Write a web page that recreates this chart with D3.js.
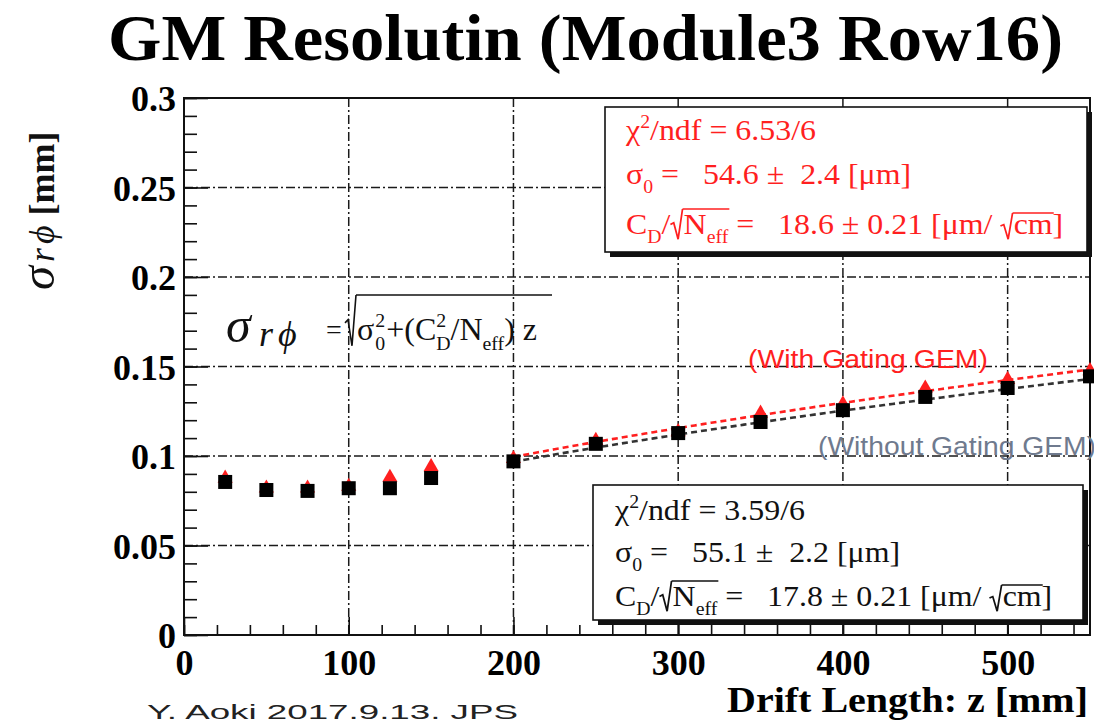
<!DOCTYPE html>
<html>
<head>
<meta charset="utf-8">
<script src="https://cdn.jsdelivr.net/npm/d3@7"></script>
<style>
  html, body { margin: 0; padding: 0; background: #fff; }
  svg text { white-space: pre; }
</style>
</head>
<body>
<svg id="chart" width="1094" height="726"></svg>
<script>
// Drift length (mm) of each measured point
const driftZ = [25, 50, 75, 100, 125, 150, 200, 250, 300, 350, 400, 450, 500, 550];
// sigma_rphi (mm) without gating GEM (black squares)
const sigmaNoGate = [0.0855, 0.0810, 0.0805, 0.0820, 0.0820, 0.0877, 0.0970, 0.1068, 0.1128, 0.1190, 0.1256, 0.1330, 0.1380, 0.1445];
// sigma_rphi (mm) with gating GEM (red triangles)
const sigmaGate = [0.0875, 0.0820, 0.0820, 0.0830, 0.0880, 0.0940, 0.0985, 0.1086, 0.1135, 0.1238, 0.1290, 0.1379, 0.1427, 0.1476];
// Fit results: sigma0 [um], C_D/sqrt(Neff) [um/sqrt(cm)], fit range [mm]
const fitGate = [54.6, 18.6];
const fitNoGate = [55.1, 17.8];
const fitRange = [200, 550];
// Axis ticks
const xMajor = [0, 100, 200, 300, 400, 500];
const xTickLabels = ["0", "100", "200", "300", "400", "500"];
const yMajor = [0, 0.05, 0.1, 0.15, 0.2, 0.25, 0.3];
const yTickLabels = ["0", "0.05", "0.1", "0.15", "0.2", "0.25", "0.3"];
const xGrid = [100, 200, 300, 400, 500];
const yGrid = [0.05, 0.1, 0.15, 0.2, 0.25];

const SERIF = "'Liberation Serif', 'Times New Roman', serif";
const SANS = "'Liberation Sans', Arial, sans-serif";
const RED = "#ff1f1f";

const svg = d3.select("#chart");
const L = 184, R = 1090, T = 98, B = 635;
const x = d3.scaleLinear().domain([0, 550]).range([L, R]);
const y = d3.scaleLinear().domain([0, 0.3]).range([B, T]);

// Rich text: sequential pieces with sub/superscripts and radicals
function rich(g, x0, y0, parts, size, color, family, weight) {
  let cx = x0, radStart = null, radTop = 0;
  const put = (txt, px, dy, fs, italic, w) => {
    const t = g.append("text").attr("x", px).attr("y", y0 + dy)
      .attr("font-family", family).attr("font-size", fs)
      .attr("font-weight", w || weight || "normal")
      .attr("font-style", italic ? "italic" : "normal")
      .attr("fill", color).text(txt);
    return t.node().getComputedTextLength();
  };
  for (const p of parts) {
    if (p.rad) {
      radStart = cx; radTop = y0 - p.rad;
      const d = `M${cx},${y0 - p.rad * 0.38} L${cx + 3},${y0 - p.rad * 0.45} L${cx + 7},${y0 + size * 0.18} L${cx + 11},${radTop}`;
      g.append("path").attr("d", d).attr("fill", "none").attr("stroke", color).attr("stroke-width", 1.6);
      cx += 12;
      continue;
    }
    if (p.endrad) {
      g.append("line").attr("x1", radStart + 11).attr("x2", cx + 1)
        .attr("y1", radTop).attr("y2", radTop).attr("stroke", color).attr("stroke-width", 1.6);
      continue;
    }
    const fs = size * (p.s || 1);
    let w = 0;
    if (p.t != null) w = put(p.t, cx, p.dy || 0, fs, p.i, p.w);
    if (p.sub != null || p.sup != null) {
      const ws = p.sub != null ? put(p.sub, cx, size * 0.32, size * 0.62, p.i, p.w) : 0;
      const wp = p.sup != null ? put(p.sup, cx, -size * 0.42, size * 0.62, p.i, p.w) : 0;
      w = Math.max(w, ws, wp);
    }
    cx += w + (p.gap || 0);
  }
  return cx;
}

// Title
svg.append("text").attr("x", 108).attr("y", 60)
  .attr("font-family", SERIF).attr("font-weight", "bold").attr("font-size", 66)
  .attr("textLength", 955).attr("lengthAdjust", "spacingAndGlyphs")
  .text("GM Resolutin (Module3 Row16)");

// Grid
const grid = svg.append("g").attr("stroke", "#1a1a1a").attr("stroke-width", 1.5)
  .attr("stroke-dasharray", "9,3,2,3");
grid.selectAll(".gx").data(xGrid).join("line")
  .attr("x1", d => x(d)).attr("x2", d => x(d)).attr("y1", T).attr("y2", B);
grid.selectAll(".gy").data(yGrid).join("line")
  .attr("x1", L).attr("x2", R).attr("y1", d => y(d)).attr("y2", d => y(d));

// Axes with inward ticks
const yMinor = d3.range(0, 0.3001, 0.01).map(v => +v.toFixed(2));
const xMinor = d3.range(0, 551, 20);
function styleAxis(g) {
  g.select(".domain").remove();
  g.selectAll(".tick line").attr("stroke", "#111").attr("stroke-width", 1.6);
  g.selectAll("text").attr("font-family", SERIF).attr("font-weight", "bold")
    .attr("font-size", 36).attr("fill", "#000");
}
svg.append("g").attr("transform", `translate(${L},0)`)
  .call(d3.axisLeft(y).tickValues(yMinor).tickSize(-13).tickFormat(""))
  .call(styleAxis);
svg.append("g").attr("transform", `translate(${L},0)`)
  .call(d3.axisLeft(y).tickValues(yMajor).tickSize(-24).tickPadding(8)
    .tickFormat((d, i) => yTickLabels[i]))
  .call(styleAxis)
  .call(g => g.selectAll("text").attr("dy", "0.36em"));
svg.append("g").attr("transform", `translate(0,${B})`)
  .call(d3.axisBottom(x).tickValues(xMinor).tickSize(-10).tickFormat(""))
  .call(styleAxis);
svg.append("g").attr("transform", `translate(0,${B})`)
  .call(d3.axisBottom(x).tickValues(xMajor).tickSize(-18).tickPadding(14)
    .tickFormat((d, i) => xTickLabels[i]))
  .call(styleAxis);

// Frame
svg.append("rect").attr("x", L).attr("y", T).attr("width", R - L).attr("height", B - T)
  .attr("fill", "none").attr("stroke", "#111").attr("stroke-width", 2);

// Fit curves: sigma(z) = sqrt(s0^2 + (C_D^2/Neff) z), z in cm, result in mm
function fitCurve(p) {
  return d3.range(fitRange[0], fitRange[1] + 0.1, 5)
    .map(z => [z, Math.sqrt(p[0] * p[0] + p[1] * p[1] * z / 10) / 1000]);
}
const line = d3.line().x(d => x(d[0])).y(d => y(d[1]));
svg.append("path").datum(fitCurve(fitNoGate)).attr("d", line)
  .attr("fill", "none").attr("stroke", "#333").attr("stroke-width", 2.6).attr("stroke-dasharray", "6,4");
svg.append("path").datum(fitCurve(fitGate)).attr("d", line)
  .attr("fill", "none").attr("stroke", RED).attr("stroke-width", 2.6).attr("stroke-dasharray", "6,4");

// Markers
const tri = d3.symbol().type(d3.symbolTriangle).size(100);
svg.append("g").selectAll("path").data(driftZ).join("path")
  .attr("d", tri).attr("fill", RED)
  .attr("transform", (d, i) => `translate(${x(d)},${y(sigmaGate[i])})`);
svg.append("g").selectAll("rect").data(driftZ).join("rect")
  .attr("x", d => x(d) - 7).attr("y", (d, i) => y(sigmaNoGate[i]) - 7)
  .attr("width", 14).attr("height", 14).attr("fill", "#000");

// Series labels
svg.append("text").attr("x", 748).attr("y", 368).attr("font-family", SANS).attr("font-size", 26)
  .attr("fill", RED).attr("textLength", 240).attr("lengthAdjust", "spacingAndGlyphs")
  .text("(With Gating GEM)");
svg.append("text").attr("x", 818).attr("y", 455).attr("font-family", SANS).attr("font-size", 26)
  .attr("fill", "#6f7a8e").attr("textLength", 278).attr("lengthAdjust", "spacingAndGlyphs")
  .text("(Without Gating GEM)");

// Fit-result boxes
function statBox(bx, by, bw, bh, color, lines, baselines, tx) {
  const g = svg.append("g");
  g.append("rect").attr("x", bx + 5).attr("y", by + 5).attr("width", bw).attr("height", bh).attr("fill", "#111");
  g.append("rect").attr("x", bx).attr("y", by).attr("width", bw).attr("height", bh)
    .attr("fill", "#fff").attr("stroke", "#111").attr("stroke-width", 1.6);
  const tg = g.append("g").attr("transform", `translate(${tx},0) scale(1.1,1)`);
  lines.forEach((parts, i) => rich(tg, 0, baselines[i], parts, 29, color, SERIF));
}
const statLines = (chi, s0, s0e, cd, cde) => [
  [{ t: "χ" }, { sup: "2" }, { t: "/ndf = " + chi }],
  [{ t: "σ" }, { sub: "0" }, { t: " =   " + s0 + " ±  " + s0e + " [μm]" }],
  [{ t: "C" }, { sub: "D" }, { t: "/" }, { rad: 25 }, { t: "N" }, { sub: "eff" }, { endrad: true },
   { t: " =   " + cd + " ± " + cde + " [μm/ " }, { rad: 21 }, { t: "cm" }, { endrad: true }, { t: "]" }]
];
statBox(605, 107, 482, 145, RED, statLines("6.53/6", "54.6", "2.4", "18.6", "0.21"), [140, 184, 234], 626);
statBox(593, 485, 490, 135, "#111", statLines("3.59/6", "55.1", "2.2", "17.8", "0.21"), [520, 562, 606], 615);

// Formula
const fg = svg.append("g");
rich(fg, 226, 342, [{ t: "σ", i: true }], 50, "#111", SERIF);
rich(fg, 259, 346, [{ t: "r", i: true, gap: 5 }, { t: "ϕ", i: true }], 36, "#111", SERIF);
rich(fg, 326, 339, [{ t: "=" }], 28, "#111", SERIF);
rich(fg, 345, 340, [{ rad: 45 }, { t: "σ", gap: 1 }, { sub: "0", sup: "2", gap: 1 }, { t: "+(C" },
  { sub: "D", sup: "2" }, { t: "/N" }, { sub: "eff" }, { t: ") z" }], 32, "#111", SERIF);
fg.append("line").attr("x1", 356).attr("x2", 552).attr("y1", 295).attr("y2", 295)
  .attr("stroke", "#111").attr("stroke-width", 1.6);

// Axis titles
svg.append("text").attr("x", 1088).attr("y", 712).attr("text-anchor", "end")
  .attr("font-family", SERIF).attr("font-weight", "bold").attr("font-size", 36)
  .attr("textLength", 361).attr("lengthAdjust", "spacingAndGlyphs")
  .text("Drift Length: z [mm]");
const yt = svg.append("g").attr("transform", "translate(54,290) rotate(-90)");
rich(yt, 0, 0, [{ t: "σ", i: true, s: 1.35, gap: 4, w: "normal" }, { t: "r", i: true, dy: 0, s: 1.0, gap: 4, w: "normal" },
  { t: "ϕ", i: true, gap: 10, w: "normal" }, { t: "[mm]" }], 36, "#111", SERIF, "bold");

// Footer
svg.append("text").attr("x", 147).attr("y", 719).attr("font-family", SANS).attr("font-size", 21)
  .attr("fill", "#222").attr("textLength", 371).attr("lengthAdjust", "spacingAndGlyphs")
  .text("Y. Aoki 2017.9.13. JPS");
</script>
</body>
</html>
